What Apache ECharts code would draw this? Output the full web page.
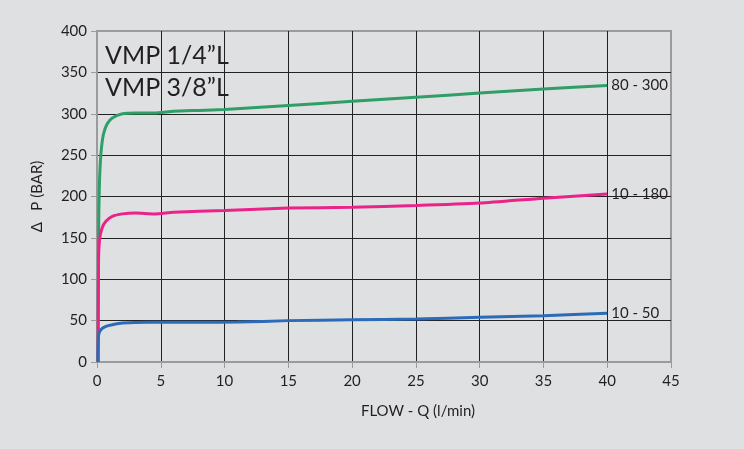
<!DOCTYPE html>
<html>
<head>
    <meta charset="utf-8">
    <script src="https://cdn.jsdelivr.net/npm/echarts@6/dist/echarts.min.js"></script>
    <style>
        html, body { margin: 0; padding: 0; background: #dfe0e2; }
        #main { width: 744px; height: 449px; }
    </style>
</head>
<body>
<div id="main"></div>
<script type="text/javascript">
    // flow (l/min) vs pressure drop (bar)
    var green = [[0.08, 0], [0.12, 150], [0.18, 210], [0.3, 250], [0.5, 275], [0.8, 288], [1.2, 295], [2, 300], [3, 301], [4.5, 301], [6, 303], [8, 304], [10, 305], [15, 310], [20, 315], [25, 320], [30, 325], [35, 330], [40, 334]];
    var pink = [[0.08, 0], [0.12, 120], [0.2, 148], [0.4, 162], [0.7, 170], [1.2, 176], [2, 179], [3, 180], [4.5, 179], [6, 181], [10, 183], [15, 186], [20, 187], [25, 189], [30, 192], [35, 198], [40, 203]];
    var blue = [[0.08, 0], [0.12, 32], [0.3, 39], [0.7, 43], [1.2, 45], [2, 47], [4, 48], [8, 48], [11, 48.2], [15, 50], [20, 51], [25, 52], [30, 54], [35, 56], [40, 59]];
    var seriesNames = ['80 - 300', '10 - 180', '10 - 50'];
    var seriesColors = ['#2f9e67', '#e9238a', '#2b6bb8'];

    var myChart = echarts.init(document.getElementById('main'));
    var font = 'Lato';

    function line(name, data, color) {
        return {
            name: name,
            type: 'line',
            data: data,
            smooth: 0.2,
            showSymbol: false,
            lineStyle: { color: color, width: 3 },
            endLabel: {
                show: true,
                formatter: name,
                color: '#231f20',
                fontFamily: font,
                fontSize: 15,
                distance: 4
            }
        };
    }

    var option = {
        backgroundColor: '#dfe0e2',
        animation: false,
        title: {
            text: 'VMP 1/4\u201dL\nVMP 3/8\u201dL',
            left: 100,
            top: 35,
            textStyle: { fontFamily: font, fontSize: 25, fontWeight: 'normal', color: '#231f20', lineHeight: 32 }
        },
        grid: {
            left: 97, right: 73, top: 31, bottom: 87,
            show: true, borderColor: '#9b9b9b', borderWidth: 2
        },
        xAxis: {
            type: 'value',
            min: 0, max: 45, interval: 5,
            name: 'FLOW - Q (l/min)',
            nameLocation: 'middle',
            nameGap: 42,
            nameTextStyle: { fontFamily: font, fontSize: 15, color: '#231f20', padding: [0, 0, 0, 68] },
            axisLine: { lineStyle: { color: '#9b9b9b', width: 2 } },
            axisTick: { show: true, length: 6, lineStyle: { color: '#9b9b9b' } },
            axisLabel: { fontFamily: font, fontSize: 15, color: '#231f20', margin: 12 },
            splitLine: { show: true, showMinLine: false, showMaxLine: false, lineStyle: { color: '#222', width: 1 } }
        },
        yAxis: {
            type: 'value',
            min: 0, max: 400, interval: 50,
            name: '\u0394   P (BAR)',
            nameLocation: 'middle',
            nameGap: 52,
            nameRotate: 90,
            nameTextStyle: { fontFamily: font, fontSize: 15, color: '#231f20' },
            axisLine: { lineStyle: { color: '#9b9b9b', width: 2 } },
            axisTick: { show: true, length: 6, lineStyle: { color: '#9b9b9b' } },
            axisLabel: { fontFamily: font, fontSize: 15, color: '#231f20', margin: 10 },
            splitLine: { show: true, showMinLine: false, showMaxLine: false, lineStyle: { color: '#222', width: 1 } }
        },
        series: [
            line(seriesNames[0], green, seriesColors[0]),
            line(seriesNames[1], pink, seriesColors[1]),
            line(seriesNames[2], blue, seriesColors[2])
        ]
    };

    myChart.setOption(option);
</script>
</body>
</html>
